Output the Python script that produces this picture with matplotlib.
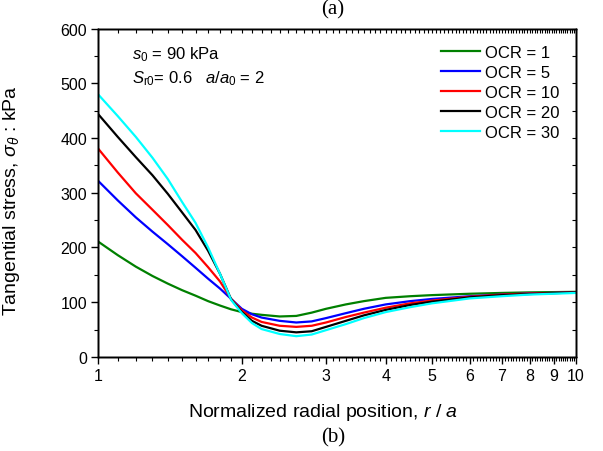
import numpy as np
import matplotlib
matplotlib.use('Agg')
import matplotlib.pyplot as plt
from matplotlib.ticker import FixedLocator, FixedFormatter, NullFormatter, MultipleLocator

plt.rcParams['font.family'] = ['Liberation Sans', 'DejaVu Sans']
plt.rcParams['mathtext.fontset'] = 'custom'
plt.rcParams['mathtext.rm'] = 'Liberation Sans'
plt.rcParams['mathtext.it'] = 'Liberation Sans:italic'

# r/a positions and tangential stress (kPa)
r = [1.0, 1.1, 1.2, 1.3, 1.4, 1.5, 1.6, 1.7, 1.8, 1.9, 2.0, 2.1, 2.2, 2.4,
     2.6, 2.8, 3.0, 3.3, 3.6, 4.0, 4.5, 5.0, 6.0, 7.0, 8.0, 10.0]
ocr1 = [211, 186, 165, 148, 134, 122, 112, 102, 94, 87, 82, 79, 77, 74,
        75, 81, 88, 96, 102, 108, 111, 113, 115.5, 117, 118, 119]
ocr5 = [322, 286, 255, 229, 206, 184, 163, 143, 125, 106, 88, 78, 72, 66,
        63, 65, 71, 80, 88, 96, 102, 106, 111, 114, 116, 118]
ocr10 = [381, 337, 299, 269, 241, 214, 190, 164, 138, 106, 85, 72, 64, 57,
         55, 57, 63, 73, 81, 90, 98, 103, 110, 114, 116, 118]
ocr20 = [444, 402, 365, 332, 298, 264, 232, 194, 152, 105, 82, 66, 57, 48,
         45, 47, 55, 66, 76, 86, 95, 101, 109, 113, 115, 118]
ocr30 = [480, 440, 402, 364, 325, 283, 245, 200, 152, 104, 80, 62, 51, 42,
         38, 41, 49, 60, 71, 82, 91, 98, 107, 111, 114, 117]

series = [ocr1, ocr5, ocr10, ocr20, ocr30]
labels = ['OCR = 1', 'OCR = 5', 'OCR = 10', 'OCR = 20', 'OCR = 30']
colors = ['#008000', '#0000ff', '#ff0000', '#000000', '#00ffff']

fig = plt.figure(figsize=(6.03, 4.52), dpi=100)
ax = fig.add_axes([0.1625, 0.208, 0.7925, 0.7267])

for ys, lab, c in zip(series, labels, colors):
    ax.plot(r, ys, color=c, lw=1.6, label=lab)

ax.set_xscale('log')
ax.set_xlim(1, 10)
ax.set_ylim(0, 600)

majors = [1, 2, 3, 4, 5, 6, 7, 8, 9, 10]
minors = [m / 10 for m in range(11, 100) if m % 10 != 0]
ax.xaxis.set_major_locator(FixedLocator(majors))
ax.xaxis.set_major_formatter(FixedFormatter([str(m) for m in majors]))
ax.xaxis.set_minor_locator(FixedLocator(minors))
ax.xaxis.set_minor_formatter(NullFormatter())
ax.yaxis.set_major_locator(MultipleLocator(100))
ax.yaxis.set_minor_locator(MultipleLocator(50))

ax.tick_params(which='major', direction='out', length=5, width=1, labelsize=11.5, pad=3)
ax.tick_params(which='minor', direction='out', length=3, width=0.8)

# inward ticks on top and right
top = ax.twiny()
top.set_xscale('log')
top.set_xlim(1, 10)
top.xaxis.set_major_locator(FixedLocator(majors))
top.xaxis.set_minor_locator(FixedLocator(minors))
top.tick_params(which='both', direction='in', labeltop=False, length=3, width=0.8)
right = ax.twinx()
right.set_ylim(0, 600)
right.yaxis.set_major_locator(MultipleLocator(100))
right.yaxis.set_minor_locator(MultipleLocator(50))
right.tick_params(which='both', direction='in', labelright=False, length=3, width=0.8)

for a in (ax, top, right):
    for s in a.spines.values():
        s.set_linewidth(1.0)

ax.set_xlabel('Normalized radial position, $\\mathit{r}$ / $\\mathit{a}$', fontsize=14)
ax.xaxis.set_label_coords(0.471, -0.135)
ax.set_ylabel('Tangential stress, $\\mathit{\\sigma}_\\theta$ : kPa', fontsize=14)
ax.yaxis.set_label_coords(-0.159, 0.48)

ax.text(0.072, 0.91, '$\\mathit{s}_0$ = 90 kPa', transform=ax.transAxes, fontsize=12)
ax.text(0.072, 0.835, '$\\mathit{S}_{\\mathrm{r0}}$= 0.6   $\\mathit{a/a}_0$ = 2',
        transform=ax.transAxes, fontsize=12)

ax.legend(loc='upper right', frameon=False, fontsize=12, handlelength=2.3,
          handletextpad=0.3, labelspacing=0.3, borderaxespad=0.6)

fig.text(0.552, 0.978, '(a)', ha='center', va='center', fontsize=15, family='Liberation Serif')
fig.text(0.552, 0.031, '(b)', ha='center', va='center', fontsize=15, family='Liberation Serif')

fig.savefig('out.png', dpi=100)
